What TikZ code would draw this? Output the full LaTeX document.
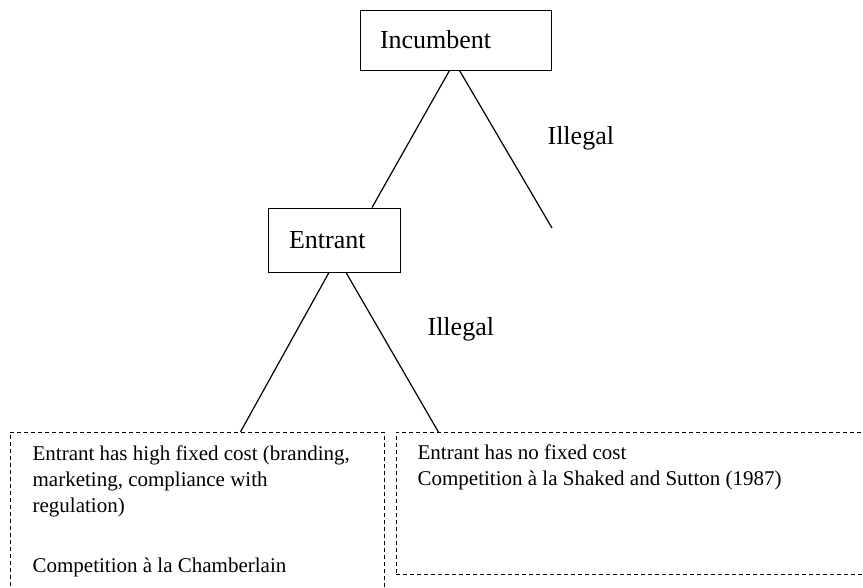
\documentclass[tikz,border=0pt]{standalone}
\usepackage{fontspec}
\setmainfont{Liberation Serif}
\usetikzlibrary{positioning}

\begin{document}
\begin{tikzpicture}[x=1pt,y=-1pt,line width=1.2pt]
        \useasboundingbox (0,0) rectangle (863,588);
        \clip (0,0) rectangle (863,588);
        \begin{scope}[every node/.style={draw,rectangle,line width=0.9pt,align=left,font=\fontsize{26}{30}\selectfont}]
        % Players
        \node[minimum width=191pt,minimum height=60pt,text width=151pt,inner xsep=20pt] (inc) at (455.5,40) {Incumbent};
        \node[minimum width=132pt,minimum height=64pt,text width=90pt,inner xsep=21pt] (ent) at (334,240) {Entrant};
        \end{scope}

        \begin{scope}[every node/.style={draw,rectangle,dash pattern=on 4pt off 3pt,line width=0.8pt,anchor=north west}]
        % Outcomes
        \node[minimum width=374pt,minimum height=180pt] (high) at (10,432) {};
        \node[minimum width=480pt,minimum height=142pt] (nofix) at (396,432) {};
        \end{scope}

        % Labels (base = last line)
        \coordinate (end) at (552,228);
        \node[font=\fontsize{26}{30}\selectfont,anchor=base west,inner sep=0] (ill1) at (547,145) {Illegal};
        \node[font=\fontsize{26}{30}\selectfont,anchor=base west,inner sep=0] (ill2) at (427,336) {Illegal};
        \node[font=\fontsize{21}{26}\selectfont,anchor=base west,inner sep=0,align=left] (hightxt) at (32,572)
              {Entrant has high fixed cost (branding,\\marketing, compliance with\\regulation)\\[34pt]Competition à la Chamberlain};
        \node[font=\fontsize{21}{26}\selectfont,anchor=base west,inner sep=0,align=left] (nofixtxt) at (417,485)
              {Entrant has no fixed cost\\Competition à la Shaked and Sutton (1987)};

        \draw ([xshift=-6pt]inc.south) -- ([xshift=38pt]ent.north)
              ([xshift=4pt]inc.south) -- (end)
              ([xshift=-5pt]ent.south) -- ([xshift=43pt]high.north)
              ([xshift=12pt]ent.south) -- ([xshift=-198pt]nofix.north);

\end{tikzpicture}
\end{document}
